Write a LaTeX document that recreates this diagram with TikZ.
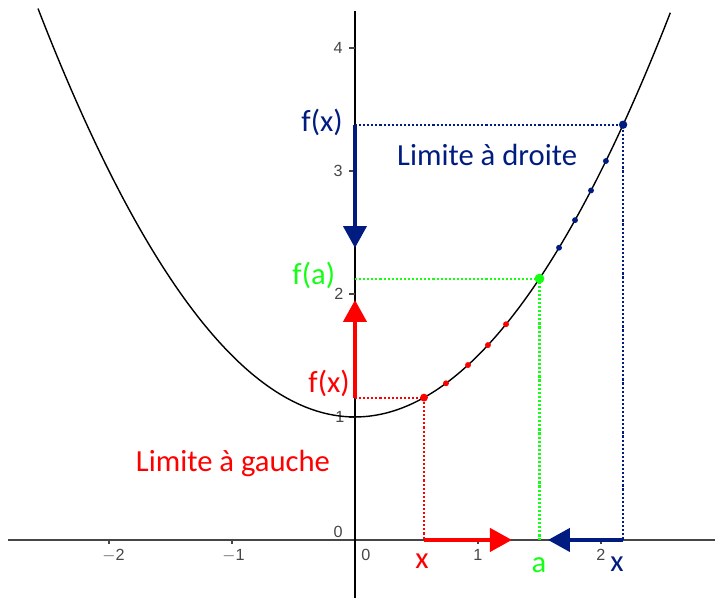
\documentclass[tikz,border=0pt]{standalone}
\usepackage{fontspec}
\setmainfont{Carlito}
\newfontfamily\tickfont{Liberation Sans}
\usetikzlibrary{arrows.meta}
\definecolor{cred}{RGB}{255,0,0}
\definecolor{cgreen}{RGB}{20,255,20}
\definecolor{cblue}{RGB}{0,28,128}
\definecolor{axisgray}{RGB}{70,70,70}
\tikzset{
  axisline/.style={line width=1.4pt, draw=axisgray},
  tickline/.style={line width=0.8pt, draw=axisgray},
  ticklab/.style={font=\tickfont\fontsize{11.5pt}{13pt}\selectfont, text=axisgray, inner sep=0pt},
  curveline/.style={line width=1pt, draw=black},
  dotline/.style={line width=1.5pt, dash pattern=on 1.5pt off 1.4pt},
  bigarrow/.style={line width=2.8pt, -{Triangle[length=15.6pt,width=16.4pt]}},
  lab/.style={font=\fontsize{21.8pt}{24pt}\selectfont, inner sep=0pt, anchor=base},
}
\begin{document}
\begin{tikzpicture}[x=3.075cm,y=3.075cm]
\useasboundingbox (-2.886,-0.4715) rectangle (2.927,4.390);
% axes
\coordinate (xl) at (-2.821,0);
\coordinate (xr) at (2.927,0);
\coordinate (yb) at (0,-0.4715);
\coordinate (yt) at (0,4.30);
\draw[axisline] (xl) -- (xr);
\draw[line width=1.2pt, draw=black] (yb) -- (yt);
% ticks
\foreach \t in {-2,-1,1,2} {
  \coordinate (xt\t) at (\t,0);
  \draw[tickline] ([yshift=1pt]xt\t) -- ([yshift=-3pt]xt\t);
}
\foreach \t in {1,2,3,4} {
  \coordinate (yt\t) at (0,\t);
  \draw[tickline] (yt\t) -- ([xshift=-4.5pt]yt\t);
}
\node[ticklab, anchor=base] (lm2) at (-1.963,-0.163) {$-$2};
\node[ticklab, anchor=base] (lm1) at (-0.988,-0.163) {$-$1};
\node[ticklab, anchor=base] (l0x) at (0.089,-0.163) {0};
\node[ticklab, anchor=base] (l1) at (1.000,-0.163) {1};
\node[ticklab, anchor=base] (l2) at (1.999,-0.163) {2};
\node[ticklab] (l0y) at (-0.138,0.065) {0};
\node[ticklab] (ly1) at (-0.122,1.0) {1};
\node[ticklab] (ly2) at (-0.130,2.0) {2};
\node[ticklab] (ly3) at (-0.138,3.0) {3};
\node[ticklab] (ly4) at (-0.138,4.0) {4};
% curve
\draw[curveline, domain=-2.577:2.565, samples=200] plot (\x,{0.5*\x*\x+1});
% points
\coordinate (R) at (0.561,{0.5*0.561*0.561+1});
\coordinate (Rx) at (0.561,0);
\coordinate (Ry) at (0,{0.5*0.561*0.561+1});
\coordinate (A) at (1.5,2.125);
\coordinate (Ax) at (1.5,0);
\coordinate (Ay) at (0,2.125);
\coordinate (B) at (2.18,{0.5*2.18*2.18+1});
\coordinate (Bx) at (2.18,0);
\coordinate (By) at (0,{0.5*2.18*2.18+1});
% dotted guides
\draw[dotline, cred] (Ry) -- (R) -- (Rx);
\draw[dotline, cgreen] (Ay) -- (A) -- (Ax);
\draw[dotline, cblue] (By) -- (B) -- (Bx);
% arrows
\coordinate (RxTip) at (1.276,0);
\coordinate (BxTip) at (1.569,0);
\coordinate (RyTip) at (0,1.951);
\coordinate (ByTip) at (0,2.374);
\draw[bigarrow, cred] (Rx) -- (RxTip);
\draw[bigarrow, cblue] (Bx) -- (BxTip);
\draw[bigarrow, cred] (Ry) -- (RyTip);
\draw[bigarrow, cblue] (By) -- (ByTip);
% sequence points
\fill[cred] (R) circle (0.032);
\foreach \v in {0.740,0.919,1.081,1.228} \fill[cred] (\v,{0.5*\v*\v+1}) circle (0.024);
\foreach \v in {1.659,1.789,1.919,2.04} \fill[cblue] (\v,{0.5*\v*\v+1}) circle (0.024);
\fill[cblue] (B) circle (0.034);
\fill[cgreen] (A) circle (0.04);
% labels
\node[lab, text=cblue] (fxb) at (-0.268,3.317) {f(x)};
\node[lab, text=cblue, anchor=base west] (ld) at (0.341,3.041) {Limite à droite};
\node[lab, text=cgreen] (fa) at (-0.335,2.073) {f(a)};
\node[lab, text=cred] (fxr) at (-0.211,1.195) {f(x)};
\node[lab, text=cred] (lg) at (-0.992,0.553) {Limite à gauche};
\node[lab, text=cred] (xr1) at (0.545,-0.228) {x};
\node[lab, text=cgreen] (al) at (1.496,-0.268) {a};
\node[lab, text=cblue] (xb1) at (2.130,-0.260) {x};
\end{tikzpicture}
\end{document}
